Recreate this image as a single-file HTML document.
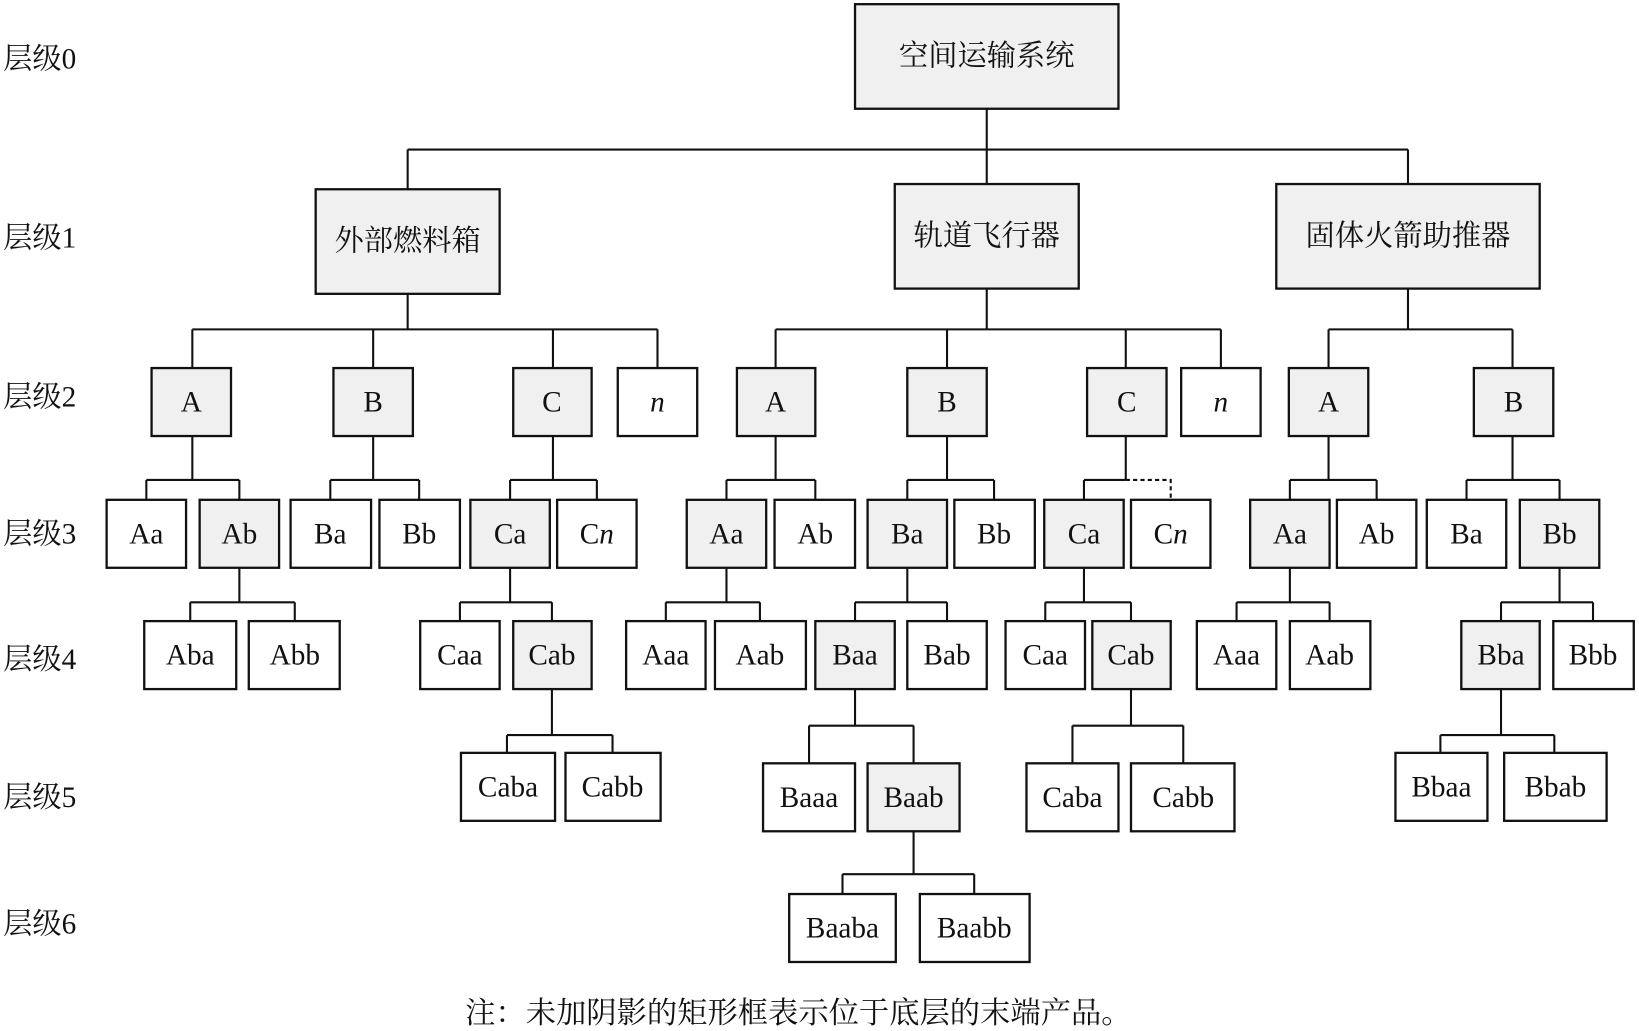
<!DOCTYPE html>
<html><head><meta charset="utf-8"><style>
html,body{margin:0;padding:0;background:#fff;}
svg{display:block;}
text{font-family:"Liberation Serif","Noto Serif CJK SC",serif;font-size:28px;fill:#111;}
.z{font-size:28px;}
</style></head><body>
<svg width="1639" height="1031" viewBox="0 0 1568 986" preserveAspectRatio="none" xmlns="http://www.w3.org/2000/svg">
<g fill="none" stroke="#111" stroke-width="2">
<path d="M944 104V143M390 143H1347M390 143V181M944 143V176M1347 143V176"/>
<path d="M390 281V315M184 315H629M184 315V352M357 315V352M529 315V352M629 315V352"/>
<path d="M944 276V315M742 315H1168M742 315V352M906 315V352M1077 315V352M1168 315V352"/>
<path d="M1347 276V315M1271 315H1447M1271 315V352M1447 315V352"/>
<path d="M184 417V459M140 459H229M140 459V478M229 459V478"/>
<path d="M357 417V459M316 459H401M316 459V478M401 459V478"/>
<path d="M529 417V459M488 459H571M488 459V478M571 459V478"/>
<path d="M742 417V459M695 459H780M695 459V478M780 459V478"/>
<path d="M906 417V459M868 459H951M868 459V478M951 459V478"/>
<path d="M1077 417V459M1037 459H1077M1037 459V478"/>
<path d="M1271 417V459M1234 459H1317M1234 459V478M1317 459V478"/>
<path d="M1447 417V459M1403 459H1492M1403 459V478M1492 459V478"/>
<path d="M229 543V576M182 576H282M182 576V594M282 576V594"/>
<path d="M488 543V576M440 576H528M440 576V594M528 576V594"/>
<path d="M695 543V576M637 576H727M637 576V594M727 576V594"/>
<path d="M868 543V576M818 576H906M818 576V594M906 576V594"/>
<path d="M1037 543V576M1000 576H1082M1000 576V594M1082 576V594"/>
<path d="M1234 543V576M1183 576H1272M1183 576V594M1272 576V594"/>
<path d="M1492 543V576M1436 576H1524M1436 576V594M1524 576V594"/>
<path d="M528 659V703M485 703H586M485 703V720M586 703V720"/>
<path d="M818 659V694M774 694H874M774 694V730M874 694V730"/>
<path d="M1082 659V694M1026 694H1132M1026 694V730M1132 694V730"/>
<path d="M1436 659V703M1378 703H1487M1378 703V720M1487 703V720"/>
<path d="M874 795V836M806 836H932M806 836V855M932 836V855"/>
</g>
<path d="M1077 459H1120V478" fill="none" stroke="#111" stroke-width="2" stroke-dasharray="4,3"/>
<g stroke="#111" stroke-width="2.2">
<rect x="818" y="4" width="252" height="100" fill="#f0f0f0"/>
<rect x="302" y="181" width="176" height="100" fill="#f0f0f0"/>
<rect x="856" y="176" width="176" height="100" fill="#f0f0f0"/>
<rect x="1221" y="176" width="252" height="100" fill="#f0f0f0"/>
<rect x="145" y="352" width="76" height="65" fill="#f0f0f0"/>
<rect x="319" y="352" width="76" height="65" fill="#f0f0f0"/>
<rect x="491" y="352" width="75" height="65" fill="#f0f0f0"/>
<rect x="591" y="352" width="76" height="65" fill="#fff"/>
<rect x="705" y="352" width="75" height="65" fill="#f0f0f0"/>
<rect x="868" y="352" width="76" height="65" fill="#f0f0f0"/>
<rect x="1040" y="352" width="76" height="65" fill="#f0f0f0"/>
<rect x="1130" y="352" width="76" height="65" fill="#fff"/>
<rect x="1233" y="352" width="76" height="65" fill="#f0f0f0"/>
<rect x="1410" y="352" width="76" height="65" fill="#f0f0f0"/>
<rect x="102" y="478" width="76" height="65" fill="#fff"/>
<rect x="191" y="478" width="76" height="65" fill="#f0f0f0"/>
<rect x="278" y="478" width="77" height="65" fill="#fff"/>
<rect x="363" y="478" width="77" height="65" fill="#fff"/>
<rect x="450" y="478" width="76" height="65" fill="#f0f0f0"/>
<rect x="533" y="478" width="76" height="65" fill="#fff"/>
<rect x="657" y="478" width="76" height="65" fill="#f0f0f0"/>
<rect x="741" y="478" width="77" height="65" fill="#fff"/>
<rect x="830" y="478" width="76" height="65" fill="#f0f0f0"/>
<rect x="913" y="478" width="77" height="65" fill="#fff"/>
<rect x="999" y="478" width="76" height="65" fill="#f0f0f0"/>
<rect x="1082" y="478" width="76" height="65" fill="#fff"/>
<rect x="1196" y="478" width="76" height="65" fill="#f0f0f0"/>
<rect x="1279" y="478" width="76" height="65" fill="#fff"/>
<rect x="1365" y="478" width="76" height="65" fill="#fff"/>
<rect x="1454" y="478" width="76" height="65" fill="#f0f0f0"/>
<rect x="138" y="594" width="88" height="65" fill="#fff"/>
<rect x="238" y="594" width="87" height="65" fill="#fff"/>
<rect x="402" y="594" width="76" height="65" fill="#fff"/>
<rect x="491" y="594" width="75" height="65" fill="#f0f0f0"/>
<rect x="599" y="594" width="76" height="65" fill="#fff"/>
<rect x="684" y="594" width="87" height="65" fill="#fff"/>
<rect x="780" y="594" width="76" height="65" fill="#f0f0f0"/>
<rect x="868" y="594" width="76" height="65" fill="#fff"/>
<rect x="962" y="594" width="76" height="65" fill="#fff"/>
<rect x="1045" y="594" width="75" height="65" fill="#f0f0f0"/>
<rect x="1145" y="594" width="76" height="65" fill="#fff"/>
<rect x="1234" y="594" width="77" height="65" fill="#fff"/>
<rect x="1398" y="594" width="75" height="65" fill="#f0f0f0"/>
<rect x="1486" y="594" width="77" height="65" fill="#fff"/>
<rect x="441" y="720" width="90" height="65" fill="#fff"/>
<rect x="541" y="720" width="91" height="65" fill="#fff"/>
<rect x="730" y="730" width="88" height="65" fill="#fff"/>
<rect x="830" y="730" width="88" height="65" fill="#f0f0f0"/>
<rect x="982" y="730" width="88" height="65" fill="#fff"/>
<rect x="1082" y="730" width="99" height="65" fill="#fff"/>
<rect x="1335" y="720" width="88" height="65" fill="#fff"/>
<rect x="1439" y="720" width="98" height="65" fill="#fff"/>
<rect x="755" y="855" width="102" height="65" fill="#fff"/>
<rect x="880" y="855" width="105" height="65" fill="#fff"/>
</g>
<g text-anchor="middle" dominant-baseline="central">
<text x="944" y="54" style="font-size:28px">空间运输系统</text>
<text x="390" y="231" style="font-size:28px">外部燃料箱</text>
<text x="944" y="226" style="font-size:28px">轨道飞行器</text>
<text x="1347" y="226" style="font-size:28px">固体火箭助推器</text>
<text x="183" y="385">A</text><text x="357" y="385">B</text><text x="528" y="385">C</text><text x="629" y="385" font-style="italic">n</text>
<text x="742" y="385">A</text><text x="906" y="385">B</text><text x="1078" y="385">C</text><text x="1168" y="385" font-style="italic">n</text>
<text x="1271" y="385">A</text><text x="1448" y="385">B</text>
<text x="140" y="511">Aa</text><text x="229" y="511">Ab</text><text x="316" y="511">Ba</text><text x="401" y="511">Bb</text><text x="488" y="511">Ca</text><text x="571" y="511">C<tspan font-style="italic">n</tspan></text>
<text x="695" y="511">Aa</text><text x="780" y="511">Ab</text><text x="868" y="511">Ba</text><text x="951" y="511">Bb</text><text x="1037" y="511">Ca</text><text x="1120" y="511">C<tspan font-style="italic">n</tspan></text>
<text x="1234" y="511">Aa</text><text x="1317" y="511">Ab</text><text x="1403" y="511">Ba</text><text x="1492" y="511">Bb</text>
<text x="182" y="627">Aba</text><text x="282" y="627">Abb</text><text x="440" y="627">Caa</text><text x="528" y="627">Cab</text>
<text x="637" y="627">Aaa</text><text x="727" y="627">Aab</text><text x="818" y="627">Baa</text><text x="906" y="627">Bab</text>
<text x="1000" y="627">Caa</text><text x="1082" y="627">Cab</text><text x="1183" y="627">Aaa</text><text x="1272" y="627">Aab</text>
<text x="1436" y="627">Bba</text><text x="1524" y="627">Bbb</text>
<text x="486" y="753">Caba</text><text x="586" y="753">Cabb</text>
<text x="774" y="763">Baaa</text><text x="874" y="763">Baab</text>
<text x="1026" y="763">Caba</text><text x="1132" y="763">Cabb</text>
<text x="1379" y="753">Bbaa</text><text x="1488" y="753">Bbab</text>
<text x="806" y="888">Baaba</text><text x="932" y="888">Baabb</text>
</g>
<g dominant-baseline="central">
<text x="3" y="57">层级0</text>
<text x="3" y="228">层级1</text>
<text x="3" y="380">层级2</text>
<text x="3" y="511">层级3</text>
<text x="3" y="631">层级4</text>
<text x="3" y="763">层级5</text>
<text x="3" y="884">层级6</text>
<text x="445" y="969" style="font-size:29px">注：未加阴影的矩形框表示位于底层的末端产品。</text>
</g>
</svg>
</body></html>
